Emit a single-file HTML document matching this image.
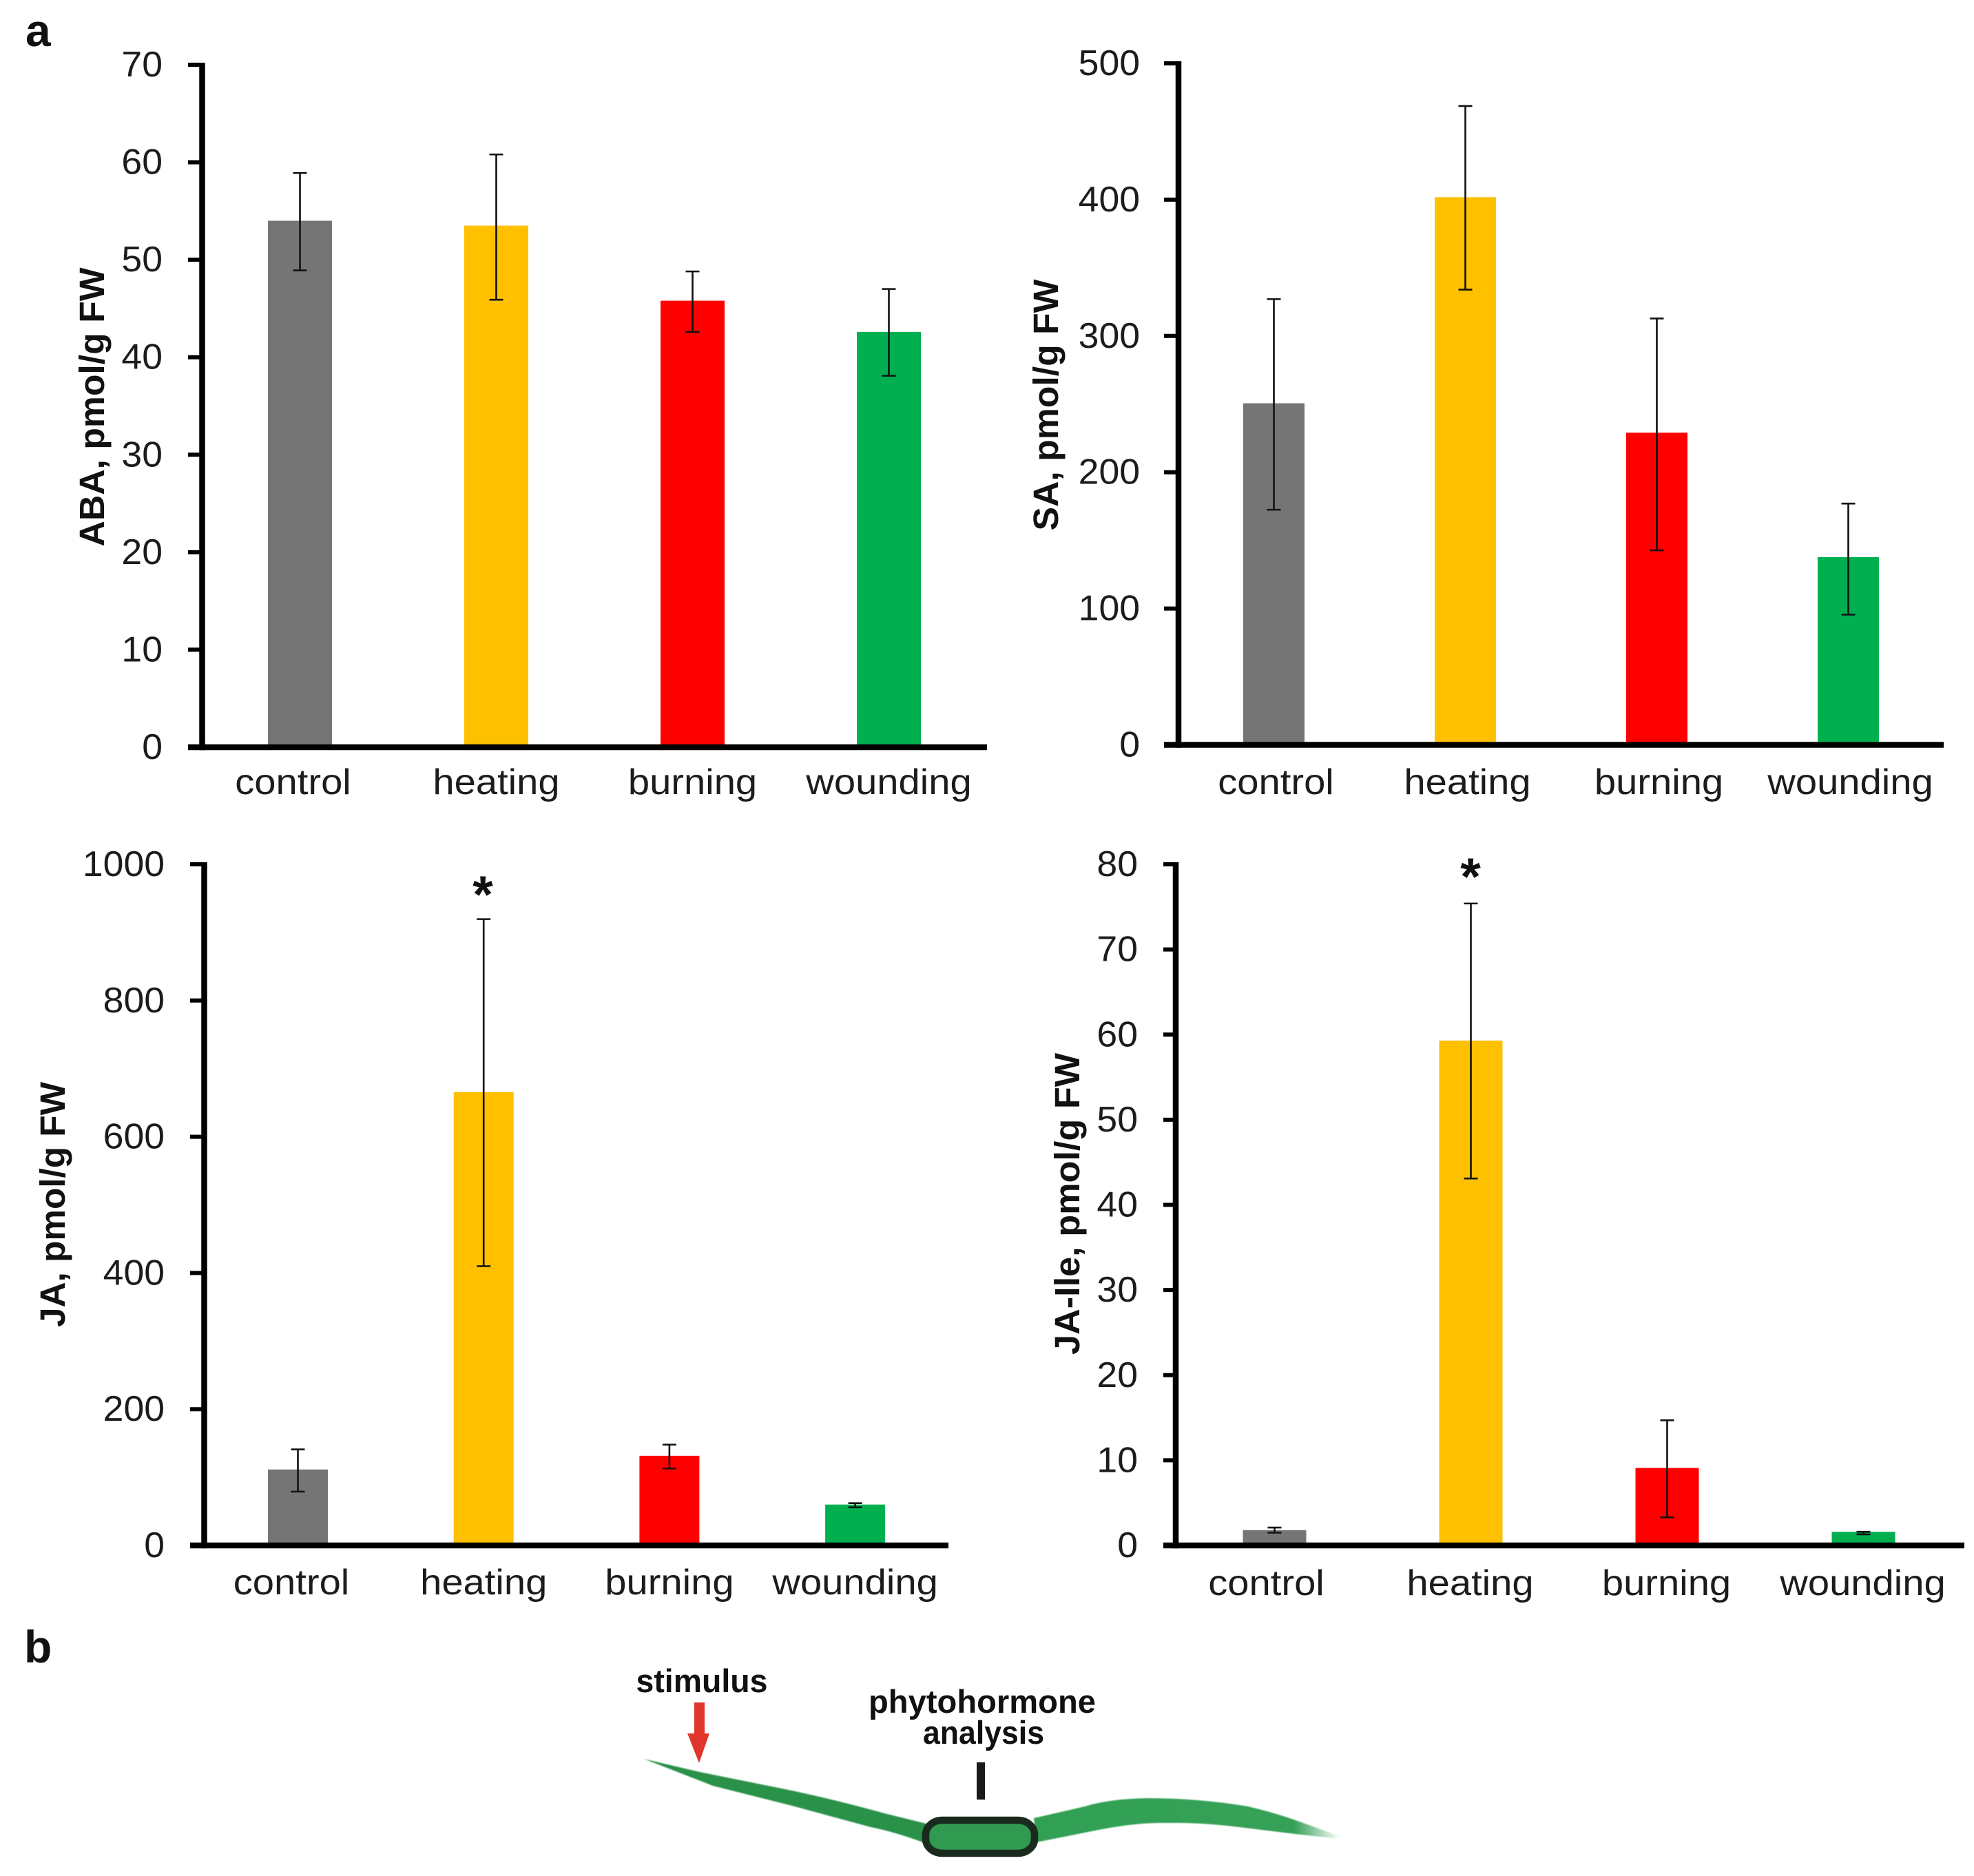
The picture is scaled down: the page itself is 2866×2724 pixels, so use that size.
<!DOCTYPE html>
<html lang="en">
<head>
<meta charset="utf-8">
<title>Phytohormone levels after stimulus</title>
<style>
  html, body { margin: 0; padding: 0; background: #fff; }
  svg { display: block; }
  text { font-family: "Liberation Sans", sans-serif; fill: #1c1c1c; }
  .bold { font-weight: 700; fill: #111; }
</style>
</head>
<body>
<svg id="figure" xmlns="http://www.w3.org/2000/svg" width="2866" height="2724" viewBox="0 0 2866 2724">
  <defs>
    <linearGradient id="leafFade" x1="0" y1="0" x2="1" y2="0">
      <stop offset="0" stop-color="#31a053"/>
      <stop offset="0.85" stop-color="#35a157"/>
      <stop offset="1" stop-color="#35a157" stop-opacity="0"/>
    </linearGradient>
    <filter id="soft" x="-5%" y="-20%" width="110%" height="140%"><feGaussianBlur stdDeviation="0.9"/></filter>
  </defs>
  <rect x="0" y="0" width="2866" height="2724" fill="#ffffff"/>
  <text class="bold" x="37" y="67" font-size="66">a</text>
  <text class="bold" x="35" y="2414" font-size="66">b</text>
  <g id="charts"></g>
  <g>
    <text class="bold" x="1019" y="2457" font-size="47" text-anchor="middle" textLength="191" lengthAdjust="spacingAndGlyphs">stimulus</text>
    <text class="bold" x="1426" y="2487" font-size="47" text-anchor="middle" textLength="330" lengthAdjust="spacingAndGlyphs">phytohormone</text>
    <text class="bold" x="1428" y="2532" font-size="47" text-anchor="middle" textLength="176" lengthAdjust="spacingAndGlyphs">analysis</text>
    <path d="M1008 2472 H1023 V2517 H1030 L1015 2560 L998 2517 H1008 Z" fill="#e0352b"/>
    <rect x="1418" y="2559" width="12" height="54" fill="#1a1a1a"/>
    <path filter="url(#soft)" d="M935 2554 L1016 2573 L1150 2600 Q1220 2615 1284 2633 L1345 2648 L1345 2677 Q1300 2660 1264 2653 L1150 2622 L1035 2593 Z" fill="#2a9149"/>
    <path filter="url(#soft)" d="M1501 2640 L1575 2623 Q1610 2612 1665 2611 Q1740 2611 1812 2623 Q1850 2632 1881 2643 Q1915 2655 1946 2667 L1946 2670 Q1915 2667 1881 2663 L1799 2653 Q1740 2646 1697 2647 Q1650 2646 1595 2657 L1505 2675 Z" fill="url(#leafFade)"/>
    <rect x="1344" y="2643" width="158" height="48" rx="24" ry="21" fill="#2f9a50" stroke="#1b2a1f" stroke-width="10.5"/>
  </g>
</svg>
<script>
const categories = ['control', 'heating', 'burning', 'wounding'];
const barColors = ['#757575', '#FFC000', '#FF0000', '#00B050'];

const abaTicks = [0, 10, 20, 30, 40, 50, 60, 70];
const abaValues = [54, 53.5, 45.8, 42.6];
const abaUpper = [58.9, 60.8, 48.8, 47];
const abaLower = [48.9, 45.9, 42.6, 38.1];

const saTicks = [0, 100, 200, 300, 400, 500];
const saValues = [250.6, 401.8, 229, 137.7];
const saUpper = [327, 468.7, 312.8, 177];
const saLower = [172.5, 334, 142.7, 95.5];

const jaTicks = [0, 200, 400, 600, 800, 1000];
const jaValues = [111.5, 665.6, 131.6, 60];
const jaUpper = [141, 919.5, 148, 62];
const jaLower = [79, 410, 113, 56];

const jaIleTicks = [0, 10, 20, 30, 40, 50, 60, 70, 80];
const jaIleValues = [1.8, 59.3, 9.1, 1.6];
const jaIleUpper = [2.1, 75.4, 14.7, 1.6];
const jaIleLower = [1.5, 43.1, 3.3, 1.3];

const panels = [
  { key: 'aba', title: 'ABA, pmol/g FW', ticks: abaTicks, values: abaValues, upper: abaUpper, lower: abaLower,
    axisX: 293.5, top: 94, zero: 1085, xStart: 273, xEnd: 1433, tickRight: 236,
    first: 435.5, step: 285, barW: 93, labelY: 1153, labelShift: 0, firstShift: -10,
    titleX: 151, titleY: 591, titleLen: 405, star: false },
  { key: 'sa', title: 'SA, pmol/g FW', ticks: saTicks, values: saValues, upper: saUpper, lower: saLower,
    axisX: 1711, top: 92, zero: 1081.5, xStart: 1690, xEnd: 2822, tickRight: 1655,
    first: 1849.5, step: 278, barW: 89, labelY: 1153, labelShift: 3, firstShift: 0,
    titleX: 1536, titleY: 588, titleLen: 365, star: false },
  { key: 'ja', title: 'JA, pmol/g FW', ticks: jaTicks, values: jaValues, upper: jaUpper, lower: jaLower,
    axisX: 296.5, top: 1255, zero: 2244, xStart: 276, xEnd: 1377, tickRight: 239,
    first: 432.5, step: 269.7, barW: 87, labelY: 2315, labelShift: 0, firstShift: -9.5,
    titleX: 94, titleY: 1749, titleLen: 356, star: true, starX: 701, starY: 1325 },
  { key: 'ja-ile', title: 'JA-Ile, pmol/g FW', ticks: jaIleTicks, values: jaIleValues, upper: jaIleUpper, lower: jaIleLower,
    axisX: 1707, top: 1255, zero: 2244, xStart: 1689, xEnd: 2852, tickRight: 1652,
    first: 1850.5, step: 285, barW: 92, labelY: 2316, labelShift: -1, firstShift: -11,
    titleX: 1567, titleY: 1748, titleLen: 438, star: true, starX: 2135, starY: 1299 }
];

const SVG_NS = 'http://www.w3.org/2000/svg';
const AXIS_STROKE = 8.5;
const TICK_STROKE = 6;
const ERR_STROKE = 2.6;
const CAP_HALF = 10;
const TICK_FONT = 52;
const TICK_STRETCH = 1.03;
const LABEL_STRETCH = 1.08;

function make(tag, attrs, parent) {
  const el = document.createElementNS(SVG_NS, tag);
  Object.keys(attrs).forEach(function (k) { el.setAttribute(k, attrs[k]); });
  parent.appendChild(el);
  return el;
}

function yScale(panel) {
  const max = panel.ticks[panel.ticks.length - 1];
  return function (v) { return panel.zero - (v / max) * (panel.zero - panel.top); };
}

function xCenter(panel, i) {
  return panel.first + panel.step * i;
}

function drawPanel(panel, root) {
  const y = yScale(panel);
  const g = make('g', {}, root);
  
  

  categories.forEach(function (cat, i) {
    const cx = xCenter(panel, i);
    const bar = make('rect', {
      x: cx - panel.barW / 2,
      y: y(panel.values[i]),
      width: panel.barW,
      height: panel.zero - y(panel.values[i]),
      fill: barColors[i]
    }, g);
    
    

    const err = make('path', {
      d: 'M' + (cx - CAP_HALF) + ' ' + y(panel.upper[i]) + ' H' + (cx + CAP_HALF) +
         ' M' + cx + ' ' + y(panel.upper[i]) + ' V' + y(panel.lower[i]) +
         ' M' + (cx - CAP_HALF) + ' ' + y(panel.lower[i]) + ' H' + (cx + CAP_HALF),
      stroke: '#111111',
      'stroke-width': ERR_STROKE,
      fill: 'none'
    }, g);
    
    

    const shift = panel.labelShift + (i === 0 ? panel.firstShift : 0);
    const label = make('text', {
      transform: 'translate(' + (cx + shift) + ' ' + panel.labelY + ') scale(' + LABEL_STRETCH + ' 1)',
      'font-size': TICK_FONT,
      'text-anchor': 'middle'
    }, g);
    label.textContent = cat;
    
    
  });

  const yAxis = make('line', {
    x1: panel.axisX, x2: panel.axisX,
    y1: panel.top - TICK_STROKE / 2, y2: panel.zero + AXIS_STROKE / 2,
    stroke: '#000000', 'stroke-width': AXIS_STROKE
  }, g);
  
  

  const xAxis = make('line', {
    x1: panel.xStart, x2: panel.xEnd,
    y1: panel.zero, y2: panel.zero,
    stroke: '#000000', 'stroke-width': AXIS_STROKE
  }, g);
  
  

  panel.ticks.forEach(function (t) {
    const tick = make('line', {
      x1: panel.xStart, x2: panel.axisX,
      y1: y(t), y2: y(t),
      stroke: '#000000', 'stroke-width': TICK_STROKE
    }, g);
    
    

    const tickLabel = make('text', {
      transform: 'translate(' + panel.tickRight + ' ' + (y(t) + 17) + ') scale(' + TICK_STRETCH + ' 1)',
      'font-size': TICK_FONT,
      'text-anchor': 'end'
    }, g);
    tickLabel.textContent = String(t);
    
    
  });

  const title = make('text', {
    transform: 'translate(' + panel.titleX + ' ' + panel.titleY + ') rotate(-90)',
    'font-size': 51,
    'text-anchor': 'middle',
    class: 'bold',
    textLength: panel.titleLen,
    lengthAdjust: 'spacingAndGlyphs'
  }, g);
  title.textContent = panel.title;
  
  

  if (panel.star) {
    const star = make('text', {
      x: panel.starX,
      y: panel.starY,
      'font-size': 76,
      'text-anchor': 'middle',
      class: 'bold'
    }, g);
    star.textContent = '*';
    
    
  }
}

const chartsRoot = document.getElementById('charts');
panels.forEach(function (p) { drawPanel(p, chartsRoot); });
</script>
</body>
</html>
